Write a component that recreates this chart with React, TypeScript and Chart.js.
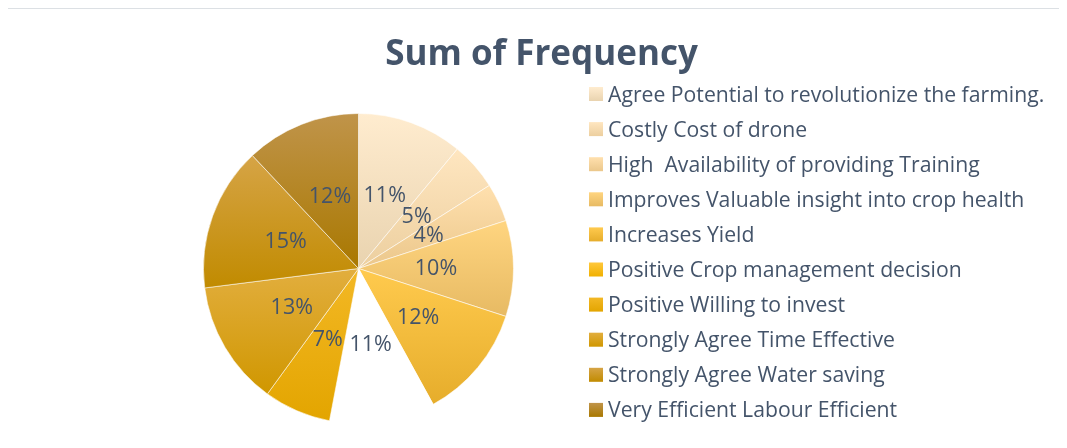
import React, { useEffect, useRef } from 'react';
import { Chart, registerables } from 'chart.js';

Chart.register(...registerables);

// ---------- data ----------
const chartTitle = 'Sum of Frequency';
const categories = [
  'Agree Potential to revolutionize the farming.',
  'Costly Cost of drone',
  'High  Availability of providing Training',
  'Improves Valuable insight into crop health',
  'Increases Yield',
  'Positive Crop management decision',
  'Positive Willing to invest',
  'Strongly Agree Time Effective',
  'Strongly Agree Water saving',
  'Very Efficient Labour Efficient',
];
const frequencyShare = [11, 5, 4, 10, 12, 11, 7, 13, 15, 12];

// ---------- styles ----------
const topColors = [
  '#FFECCF', '#FFE6C0', '#FFE0AE', '#FFD580', '#FFCA4E',
  '#FFC83C', '#F3B825', '#E2AE3E', '#D6A446', '#C0944A',
];
const bottomColors = [
  '#E9D3AF', '#ECCF9F', '#EBC78B', '#E7BA63', '#E6AD2B',
  '#F0B000', '#E3A500', '#D09700', '#C18B00', '#A97800',
];
const noFillIndex = 5; // slice shown without fill in the reference
const textColor = '#44546A';
const fontFamily = '"Open Sans", "Noto Sans", sans-serif';

const W = 1051;
const H = 432;

function sliceGradient(ctx: CanvasRenderingContext2D, arc: any, i: number) {
  const { x, y, startAngle, endAngle, outerRadius } = arc.getProps(
    ['x', 'y', 'startAngle', 'endAngle', 'outerRadius'],
    true
  );
  let minY = y;
  let maxY = y;
  const consider = (a: number) => {
    const py = y + Math.sin(a) * outerRadius;
    minY = Math.min(minY, py);
    maxY = Math.max(maxY, py);
  };
  consider(startAngle);
  consider(endAngle);
  [-Math.PI / 2, Math.PI / 2, (3 * Math.PI) / 2].forEach((a) => {
    if (a >= startAngle && a <= endAngle) consider(a);
  });
  const g = ctx.createLinearGradient(0, minY, 0, maxY);
  g.addColorStop(0, topColors[i]);
  g.addColorStop(1, bottomColors[i]);
  return g;
}

const customPlugin = {
  id: 'excelLook',
  beforeDatasetsDraw(chart: any) {
    const ctx = chart.ctx;
    const meta = chart.getDatasetMeta(0);
    meta.data.forEach((arc: any, i: number) => {
      arc.options.backgroundColor = i === noFillIndex ? '#FFFFFF' : sliceGradient(ctx, arc, i);
    });
  },
  afterDatasetsDraw(chart: any) {
    const ctx = chart.ctx;
    const meta = chart.getDatasetMeta(0);
    const total = frequencyShare.reduce((a, b) => a + b, 0);
    ctx.save();
    ctx.fillStyle = textColor;
    ctx.font = `21.5px ${fontFamily}`;
    ctx.textAlign = 'center';
    ctx.textBaseline = 'middle';
    meta.data.forEach((arc: any, i: number) => {
      const { x, y, startAngle, endAngle, outerRadius } = arc.getProps(
        ['x', 'y', 'startAngle', 'endAngle', 'outerRadius'],
        true
      );
      const mid = (startAngle + endAngle) / 2;
      const r = outerRadius * 0.5;
      const pct = Math.round((frequencyShare[i] / total) * 100);
      ctx.fillText(`${pct}%`, x + Math.cos(mid) * r, y + Math.sin(mid) * r);
    });
    ctx.restore();
  },
  afterDraw(chart: any) {
    const ctx = chart.ctx;
    ctx.save();
    // title
    ctx.fillStyle = textColor;
    ctx.font = `bold 35px ${fontFamily}`;
    ctx.textAlign = 'center';
    ctx.textBaseline = 'alphabetic';
    ctx.fillText(chartTitle, 533.5, 57);
    // legend
    const boxX = 581;
    const box = 14;
    const row0 = 86;
    const rowGap = 35.1;
    ctx.font = `21.2px ${fontFamily}`;
    ctx.textAlign = 'left';
    categories.forEach((label, i) => {
      const cy = row0 + i * rowGap;
      const g = ctx.createLinearGradient(0, cy - box / 2, 0, cy + box / 2);
      g.addColorStop(0, topColors[i]);
      g.addColorStop(1, bottomColors[i]);
      ctx.fillStyle = g;
      ctx.fillRect(boxX, cy - box / 2, box, box);
      ctx.fillStyle = textColor;
      ctx.fillText(label, 600, cy + 7.5);
    });
    ctx.restore();
  },
};

export default function App() {
  const canvasRef = useRef<HTMLCanvasElement | null>(null);

  useEffect(() => {
    if (!canvasRef.current) return;
    const chart = new Chart(canvasRef.current, {
      type: 'pie',
      data: {
        labels: categories,
        datasets: [
          {
            data: frequencyShare,
            backgroundColor: (c: any) => topColors[c.dataIndex],
            borderColor: 'rgba(255,255,255,0.55)',
            borderWidth: 1,
          },
        ],
      },
      options: {
        animation: false,
        responsive: false,
        maintainAspectRatio: false,
        layout: { padding: { left: 195, right: 545, top: 105, bottom: 16 } },
        plugins: {
          legend: { display: false },
          title: { display: false },
          tooltip: { enabled: false },
        },
      },
      plugins: [customPlugin],
    });
    return () => chart.destroy();
  }, []);

  return (
    <div style={{ position: 'relative', width: W, height: H }}>
      <div
        style={{
          position: 'absolute',
          left: -2,
          top: 0,
          width: 1061,
          height: 440,
          boxSizing: 'border-box',
          borderTop: '1px solid #DCE0E4',
          borderLeft: '1px solid #DCE0E4',
          pointerEvents: 'none',
        }}
      />
      <canvas ref={canvasRef} width={W} height={H} style={{ display: 'block', position: 'relative' }} />
    </div>
  );
}
